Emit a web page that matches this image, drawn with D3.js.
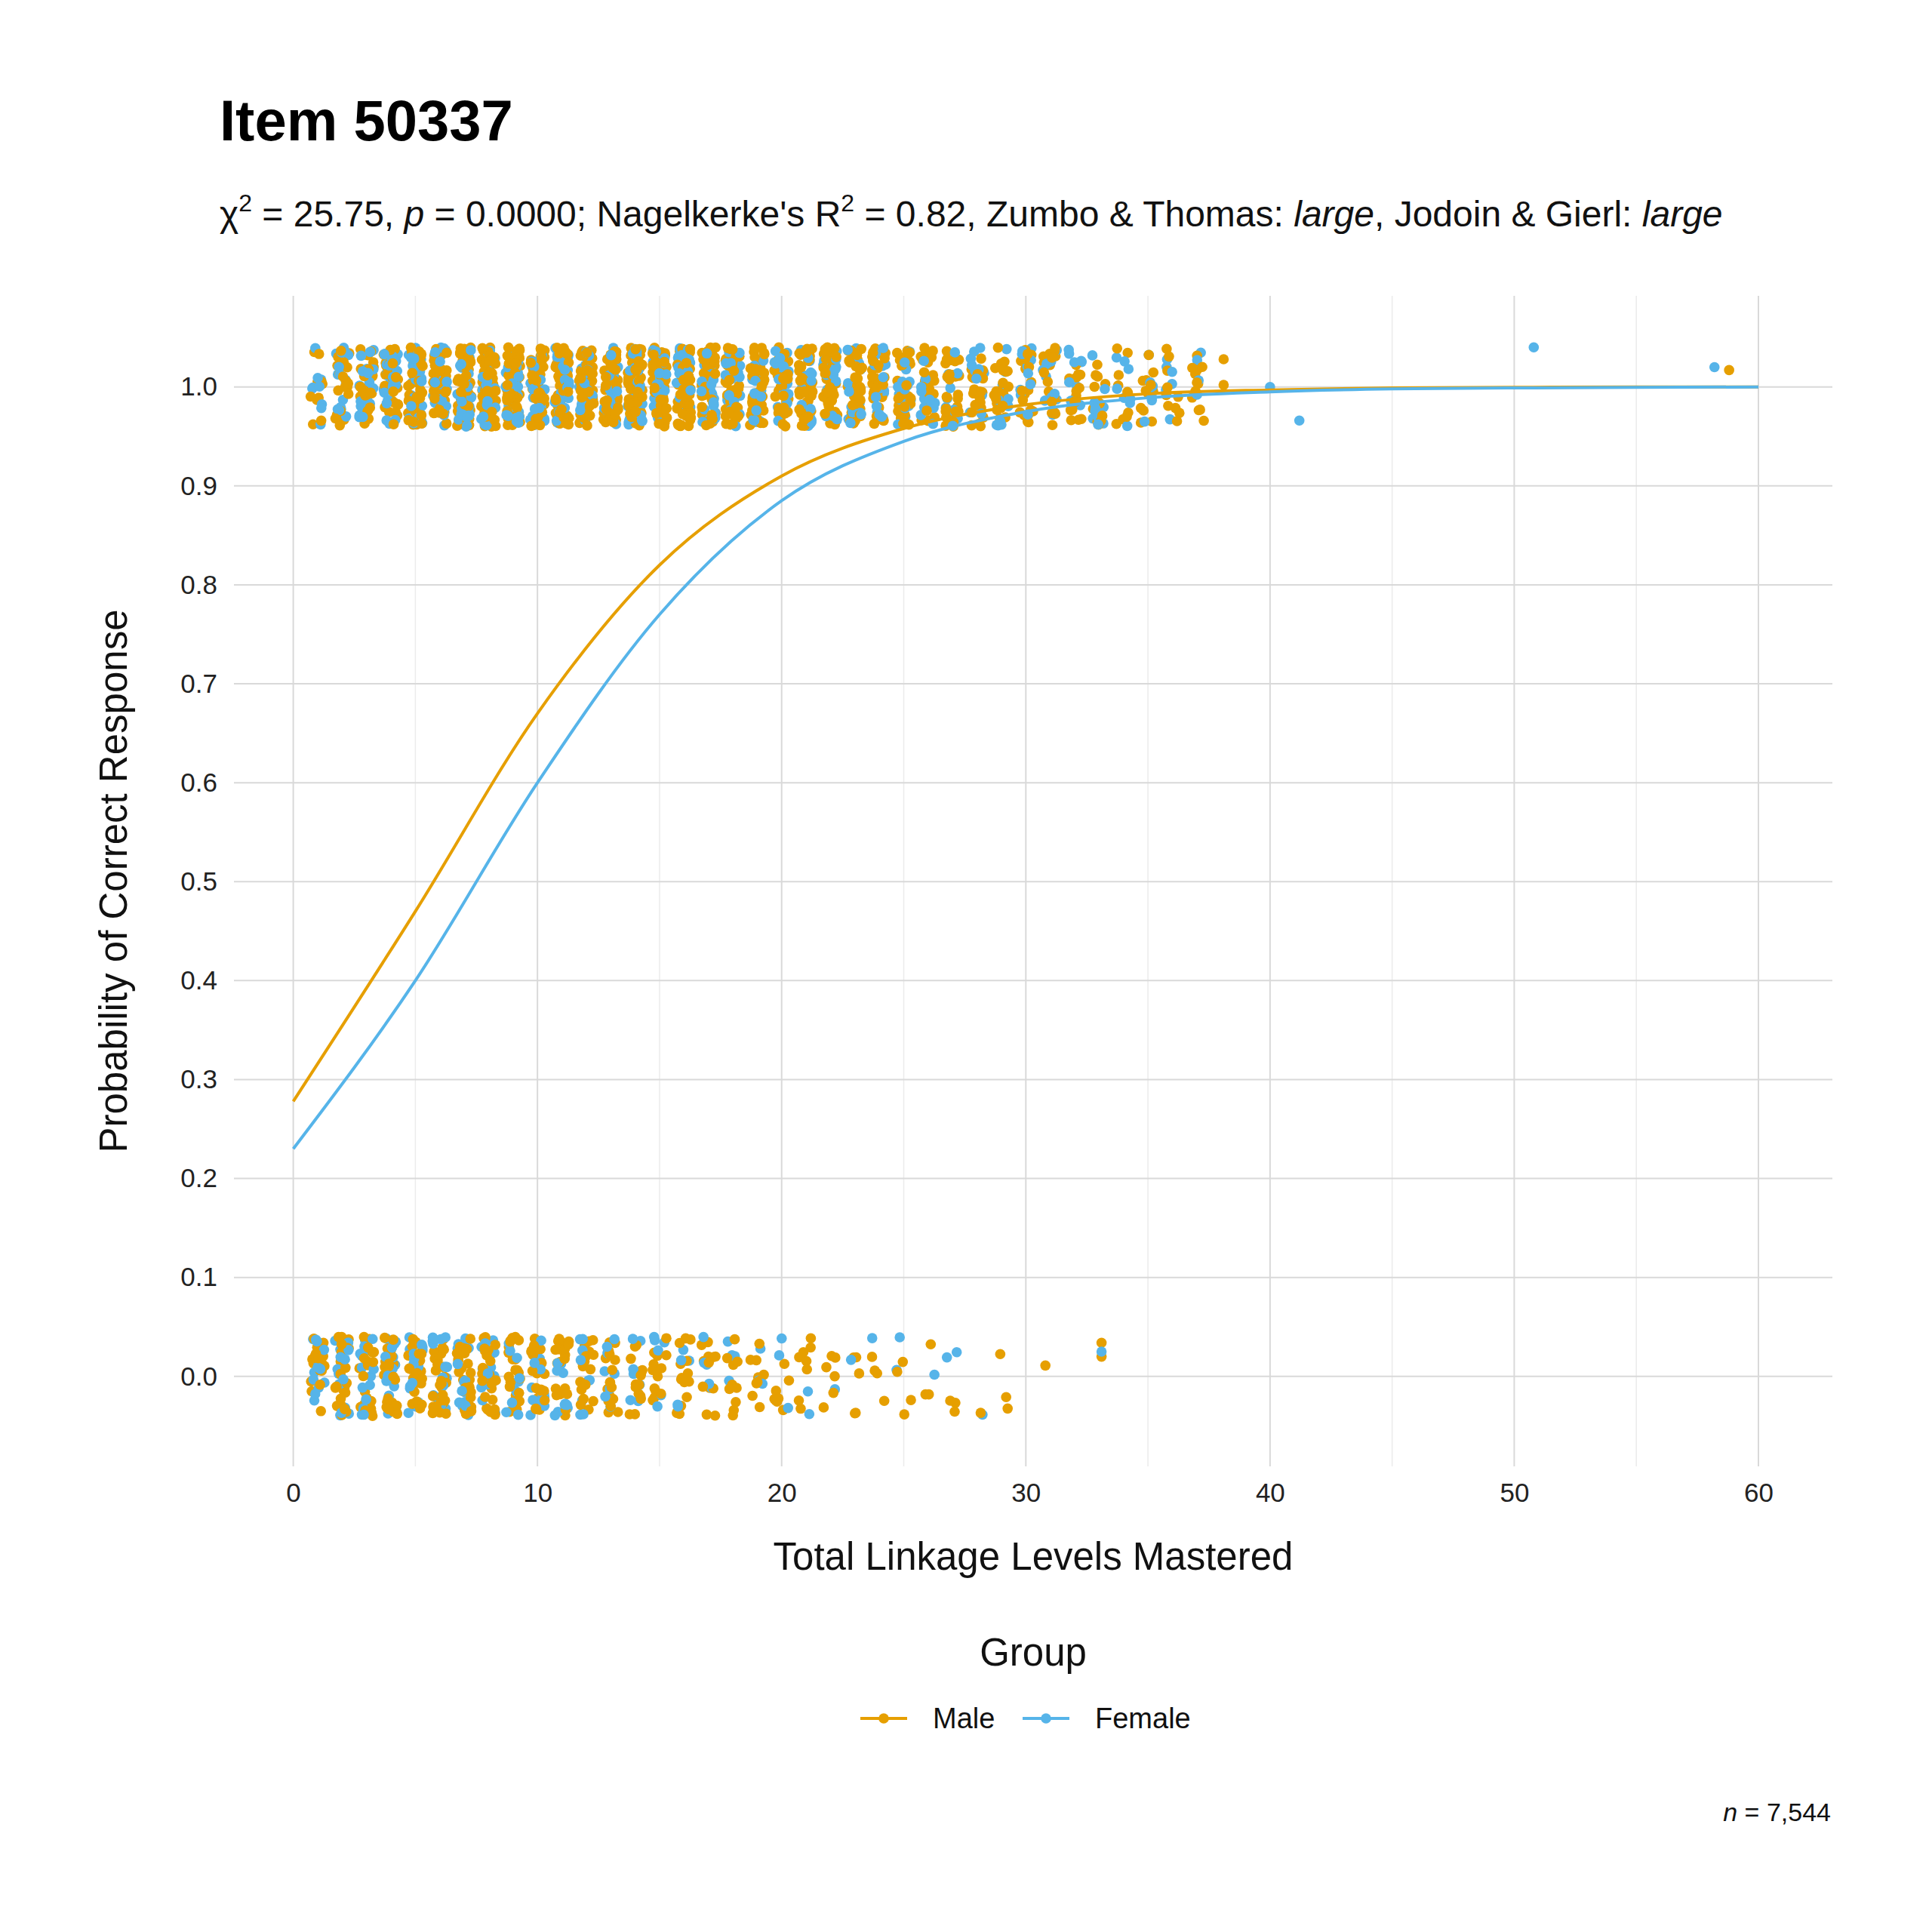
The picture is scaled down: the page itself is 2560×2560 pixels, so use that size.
<!DOCTYPE html>
<html>
<head>
<meta charset="utf-8">
<script src="https://cdn.jsdelivr.net/npm/d3@7"></script>
<style>
  body { margin: 0; background: #fff; }
  text { font-family: Arial, "Liberation Sans", sans-serif; }
</style>
</head>
<body>
<script>
// fitted curves, read at total = 0,5,...,60
var curveX = [0, 5, 10, 15, 20, 25, 30, 35, 40, 45, 50, 55, 60];
var maleCurve = [0.278, 0.47, 0.67, 0.82, 0.91, 0.958, 0.982, 0.993, 0.997, 0.999, 0.9995, 1.0, 1.0];
var femaleCurve = [0.23, 0.40, 0.60, 0.77, 0.885, 0.945, 0.975, 0.989, 0.995, 0.998, 0.999, 0.9995, 1.0];

// number of plotted respondents per total score (scores 1..37), correct response
var maleCorrect = [12, 20, 28, 36, 44, 48, 52, 56, 56, 56, 56, 52, 52, 52, 48, 48, 44, 44, 44, 40, 40, 40, 36, 36, 32, 28, 28, 24, 24, 20, 18, 16, 12, 10, 12, 10, 12];
var femaleCorrect = [10, 16, 20, 24, 28, 28, 28, 28, 28, 28, 28, 24, 24, 24, 24, 24, 20, 20, 20, 20, 20, 20, 18, 16, 16, 16, 14, 12, 12, 10, 10, 10, 10, 8, 6, 6, 4];
// incorrect response, scores 1..29
var maleIncorrect = [20, 24, 24, 28, 28, 28, 28, 24, 24, 24, 20, 20, 18, 16, 14, 14, 12, 10, 10, 8, 8, 6, 5, 4, 4, 3, 3, 1, 3];
var femaleIncorrect = [14, 16, 16, 18, 18, 16, 14, 14, 12, 12, 10, 9, 8, 7, 6, 5, 5, 4, 3, 3, 2, 1, 1, 1, 2, 1, 2, 1, 0];
// sparse outlying points [score, plotted value]
var maleExtra = [[38.1, 1.028], [38.1, 1.002], [58.8, 1.017], [30.8, 0.011], [33.1, 0.034], [33.1, 0.02]];
var femaleExtra = [[40, 1.0], [41.2, 0.966], [50.8, 1.04], [58.2, 1.02], [33.1, 0.025]];

var xTicks = [0, 10, 20, 30, 40, 50, 60];
var yTicks = [0, 0.1, 0.2, 0.3, 0.4, 0.5, 0.6, 0.7, 0.8, 0.9, 1.0];

var MALE = "#E69F00", FEMALE = "#56B4E9";
var W = 2560, H = 2560;
var panel = {left: 310, right: 2428, top: 392, bottom: 1943};

var svg = d3.select("body").append("svg").attr("width", W).attr("height", H);

var x = d3.scaleLinear().domain([0, 60]).range([388.6, 2330]);
var y = d3.scaleLinear().domain([0, 1]).range([1823.8, 512.7]);

// grid
var g = svg.append("g");
g.selectAll(".minx").data(d3.range(5, 60, 10)).join("line")
  .attr("x1", x).attr("x2", x).attr("y1", panel.top).attr("y2", panel.bottom)
  .attr("stroke", "#ebebeb").attr("stroke-width", 1.5);
g.selectAll(".gx").data(xTicks).join("line")
  .attr("x1", x).attr("x2", x).attr("y1", panel.top).attr("y2", panel.bottom)
  .attr("stroke", "#d9d9d9").attr("stroke-width", 2);
g.selectAll(".gy").data(yTicks).join("line")
  .attr("y1", y).attr("y2", y).attr("x1", panel.left).attr("x2", panel.right)
  .attr("stroke", "#d9d9d9").attr("stroke-width", 2);

// axes labels
var xa = svg.append("g").attr("transform", "translate(0," + (panel.bottom + 8) + ")")
  .call(d3.axisBottom(x).tickValues(xTicks).tickSize(0).tickPadding(14));
var ya = svg.append("g").attr("transform", "translate(" + (panel.left - 8) + ",0)")
  .call(d3.axisLeft(y).tickValues(yTicks).tickFormat(d3.format(".1f")).tickSize(0).tickPadding(14));
[xa, ya].forEach(function (a) {
  a.select(".domain").remove();
  a.selectAll("text").attr("font-size", 35).attr("fill", "#222")
    .style("font-family", "Arial, 'Liberation Sans', sans-serif");
});

// deterministic jitter
function jit(i, k) {
  var s = Math.sin(i * 12.9898 + k * 78.233) * 43758.5453;
  return (s - Math.floor(s)) * 2 - 1;
}

function buildPoints(correct, incorrect, extra, seed) {
  var pts = [];
  correct.forEach(function (n, i) {
    for (var j = 0; j < n; j++) pts.push([i + 1, 1]);
  });
  incorrect.forEach(function (n, i) {
    for (var j = 0; j < n; j++) pts.push([i + 1, 0]);
  });
  var out = pts.map(function (p, i) {
    return {x: p[0] + 0.3 * jit(i + seed, 1), y: p[1] + 0.04 * jit(i + seed, 2)};
  });
  extra.forEach(function (p) { out.push({x: p[0], y: p[1]}); });
  return out;
}

var malePts = buildPoints(maleCorrect, maleIncorrect, maleExtra, 0);
var femalePts = buildPoints(femaleCorrect, femaleIncorrect, femaleExtra, 5000);
var all = [];
malePts.forEach(function (p) { all.push({p: p, c: MALE}); });
femalePts.forEach(function (p) { all.push({p: p, c: FEMALE}); });
all.sort(function (a, b) { return jit(a.p.x * 100, a.p.y * 100) - jit(b.p.x * 100, b.p.y * 100); });

svg.append("g").selectAll("circle").data(all).join("circle")
  .attr("cx", function (d) { return x(d.p.x); })
  .attr("cy", function (d) { return y(d.p.y); })
  .attr("r", 6.8).attr("fill", function (d) { return d.c; });

var line = d3.line().x(function (d) { return x(d[0]); }).y(function (d) { return y(d[1]); })
  .curve(d3.curveMonotoneX);
[[maleCurve, MALE], [femaleCurve, FEMALE]].forEach(function (c) {
  svg.append("path").datum(curveX.map(function (v, i) { return [v, c[0][i]]; }))
    .attr("d", line).attr("fill", "none").attr("stroke", c[1]).attr("stroke-width", 4);
});

// titles
svg.append("text").attr("x", 291).attr("y", 186).attr("font-size", 76).attr("font-weight", "bold")
  .attr("fill", "#000").text("Item 50337");

var sub = svg.append("text").attr("x", 291).attr("y", 300).attr("font-size", 48).attr("fill", "#111");
sub.append("tspan").text("χ");
sub.append("tspan").attr("dy", -20).attr("font-size", 32).text("2");
sub.append("tspan").attr("dy", 20).text(" = 25.75, ");
sub.append("tspan").attr("font-style", "italic").text("p");
sub.append("tspan").text(" = 0.0000; Nagelkerke's R");
sub.append("tspan").attr("dy", -20).attr("font-size", 32).text("2");
sub.append("tspan").attr("dy", 20).text(" = 0.82, Zumbo & Thomas: ");
sub.append("tspan").attr("font-style", "italic").text("large");
sub.append("tspan").text(", Jodoin & Gierl: ");
sub.append("tspan").attr("font-style", "italic").text("large");

svg.append("text").attr("x", (panel.left + panel.right) / 2).attr("y", 2080)
  .attr("text-anchor", "middle").attr("font-size", 51).attr("fill", "#111")
  .text("Total Linkage Levels Mastered");
svg.append("text").attr("transform", "translate(168," + ((panel.top + panel.bottom) / 2) + ") rotate(-90)")
  .attr("text-anchor", "middle").attr("font-size", 51).attr("fill", "#111")
  .text("Probability of Correct Response");

// legend
svg.append("text").attr("x", (panel.left + panel.right) / 2).attr("y", 2207)
  .attr("text-anchor", "middle").attr("font-size", 51).attr("fill", "#111").text("Group");
var legend = [["Male", MALE, 1140], ["Female", FEMALE, 1355]];
legend.forEach(function (l) {
  var lg = svg.append("g").attr("transform", "translate(" + l[2] + ",2277)");
  lg.append("line").attr("x1", 0).attr("x2", 62).attr("stroke", l[1]).attr("stroke-width", 4);
  lg.append("circle").attr("cx", 31).attr("r", 6.8).attr("fill", l[1]);
  lg.append("text").attr("x", 96).attr("y", 13).attr("font-size", 38).attr("fill", "#111").text(l[0]);
});

var nt = svg.append("text").attr("x", 2426).attr("y", 2413).attr("text-anchor", "end")
  .attr("font-size", 34).attr("fill", "#111");
nt.append("tspan").attr("font-style", "italic").text("n");
nt.append("tspan").text(" = 7,544");
</script>
</body>
</html>
